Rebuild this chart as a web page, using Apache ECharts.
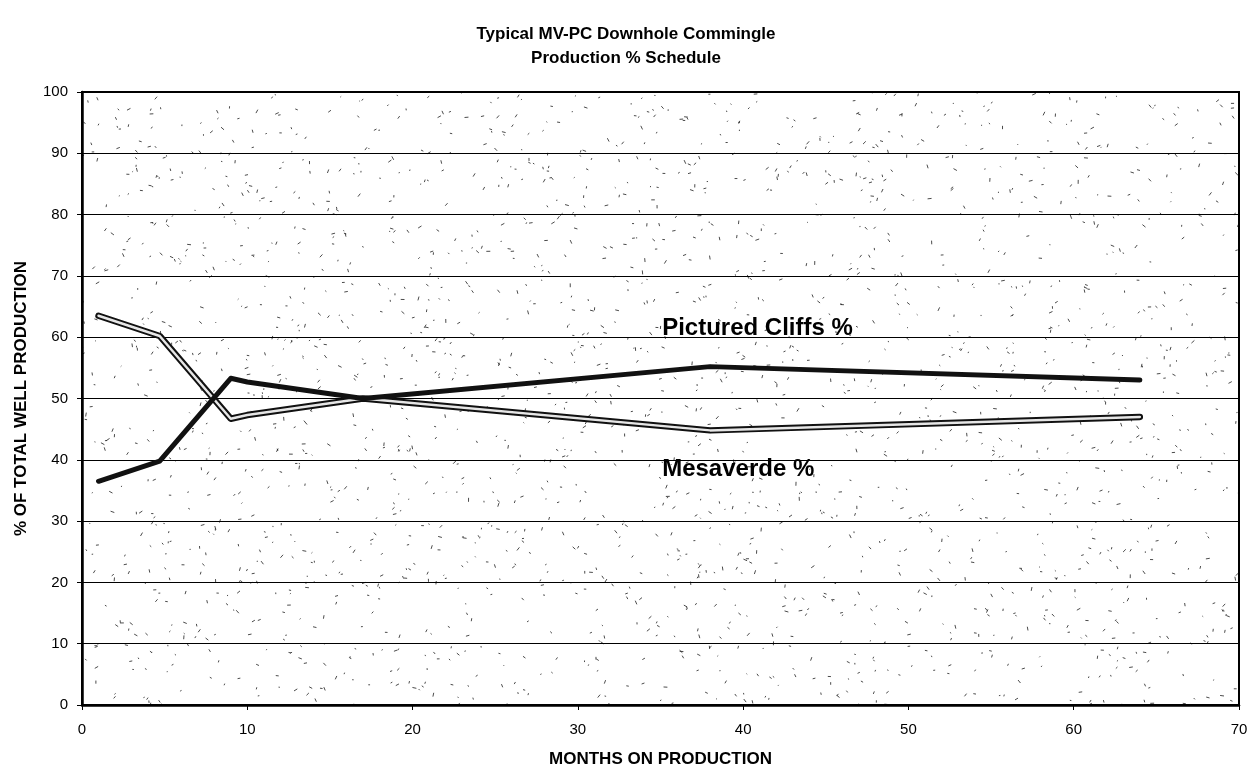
<!DOCTYPE html>
<html>
<head>
<meta charset="utf-8">
<script src="https://cdn.jsdelivr.net/npm/echarts@6/dist/echarts.min.js"></script>
<style>
html,body{margin:0;padding:0;background:#fff;}
#chart{width:1252px;height:773px;}
</style>
</head>
<body>
<div id="chart"></div>
<script>
// ---- data ----
var titleLines = ['Typical MV-PC Downhole Commingle', 'Production % Schedule'];
var months = [1, 4.7, 9, 10, 17, 38, 64];
var mesaverdePct = [63.5, 60.2, 46.7, 47.3, 50, 44.8, 47];
var picturedCliffsPct = [36.5, 39.8, 53.3, 52.7, 50, 55.2, 53];
var xTicks = [0, 10, 20, 30, 40, 50, 60, 70];
var yTicks = [0, 10, 20, 30, 40, 50, 60, 70, 80, 90, 100];
var seriesLabels = [
  { text: 'Pictured Cliffs %', x: 35.1, y: 61.5 },
  { text: 'Mesaverde %', x: 35.1, y: 38.5 }
];

function pairs(xs, ys) { return xs.map(function (x, i) { return [x, ys[i]]; }); }

// deterministic speckle texture for plot background (scan noise look)
function makeSpeckle() {
  var W = 1252, H = 773;
  var c = document.createElement('canvas');
  c.width = W; c.height = H;
  var g = c.getContext('2d');
  g.fillStyle = '#ffffff'; g.fillRect(0, 0, W, H);
  g.strokeStyle = 'rgba(30,30,30,0.8)'; g.lineWidth = 1;
  var s = 987654;
  function nx() { s = (s * 1103515245 + 12345) % 2147483648; return s / 2147483648; }
  for (var i = 0; i < 3200; i++) {
    var px = nx() * W, py = nx() * H;
    var a = nx() * Math.PI * 2, l = 1 + nx() * 3;
    g.beginPath(); g.moveTo(px, py); g.lineTo(px + Math.cos(a) * l, py + Math.sin(a) * l); g.stroke();
  }
  return c;
}

var FONT = 'Liberation Sans, Arial, sans-serif';
var chart = echarts.init(document.getElementById('chart'), null, { renderer: 'canvas' });

var option = {
  backgroundColor: '#ffffff',
  animation: false,
  title: {
    text: titleLines.join('\n'),
    left: 'center',
    top: 17,
    textStyle: { fontFamily: FONT, fontSize: 17, fontWeight: 'bold', color: '#000', lineHeight: 24 }
  },
  grid: {
    left: 82, right: 13, top: 92, bottom: 63,
    show: true,
    backgroundColor: { image: makeSpeckle(), repeat: 'repeat' },
    borderColor: '#000', borderWidth: 2
  },
  xAxis: {
    type: 'value', min: 0, max: 70, interval: 10,
    name: 'MONTHS ON PRODUCTION', nameLocation: 'middle', nameGap: 46,
    nameTextStyle: { fontFamily: FONT, fontSize: 17, fontWeight: 'bold', color: '#000' },
    axisLine: { show: true, lineStyle: { color: '#000', width: 2.5 } },
    axisTick: { show: true, length: 5, lineStyle: { color: '#000', width: 1 } },
    axisLabel: {
      fontFamily: FONT, fontSize: 15, color: '#000', margin: 17,
      formatter: function (v) { return xTicks.indexOf(v) >= 0 ? String(v) : ''; }
    },
    splitLine: { show: false }
  },
  yAxis: {
    type: 'value', min: 0, max: 100, interval: 10,
    name: '% OF TOTAL WELL PRODUCTION', nameLocation: 'middle', nameGap: 52,
    nameTextStyle: { fontFamily: FONT, fontSize: 17, fontWeight: 'bold', color: '#000' },
    axisLine: { show: true, lineStyle: { color: '#000', width: 2.5 } },
    axisTick: { show: true, length: 5, lineStyle: { color: '#000', width: 1 } },
    axisLabel: {
      fontFamily: FONT, fontSize: 15, color: '#000', margin: 14,
      formatter: function (v) { return yTicks.indexOf(v) >= 0 ? String(v) : ''; }
    },
    splitLine: { show: true, lineStyle: { color: '#000', width: 1.2 } }
  },
  series: [
    {
      name: 'Mesaverde %', type: 'line', data: pairs(months, mesaverdePct),
      showSymbol: false, symbol: 'none', z: 3,
      lineStyle: { color: '#111', width: 6.5, join: 'round', cap: 'round' }
    },
    {
      name: 'Mesaverde % inner', type: 'line', data: pairs(months, mesaverdePct),
      showSymbol: false, symbol: 'none', z: 4, silent: true,
      lineStyle: { color: '#e6e6e6', width: 2.5, join: 'round', cap: 'round' }
    },
    {
      name: 'Pictured Cliffs %', type: 'line', data: pairs(months, picturedCliffsPct),
      showSymbol: false, symbol: 'none', z: 5,
      lineStyle: { color: '#111', width: 5, join: 'round', cap: 'round' },
      markPoint: {
        symbol: 'rect', symbolSize: 1, silent: true,
        itemStyle: { color: 'rgba(0,0,0,0)' },
        label: {
          show: true, position: 'inside', align: 'left', verticalAlign: 'middle', color: '#000',
          fontFamily: FONT, fontSize: 24, fontWeight: 'bold',
          formatter: function (p) { return p.name; }
        },
        data: seriesLabels.map(function (l) { return { name: l.text, coord: [l.x, l.y] }; })
      }
    }
  ]
};
chart.setOption(option);
</script>
</body>
</html>
